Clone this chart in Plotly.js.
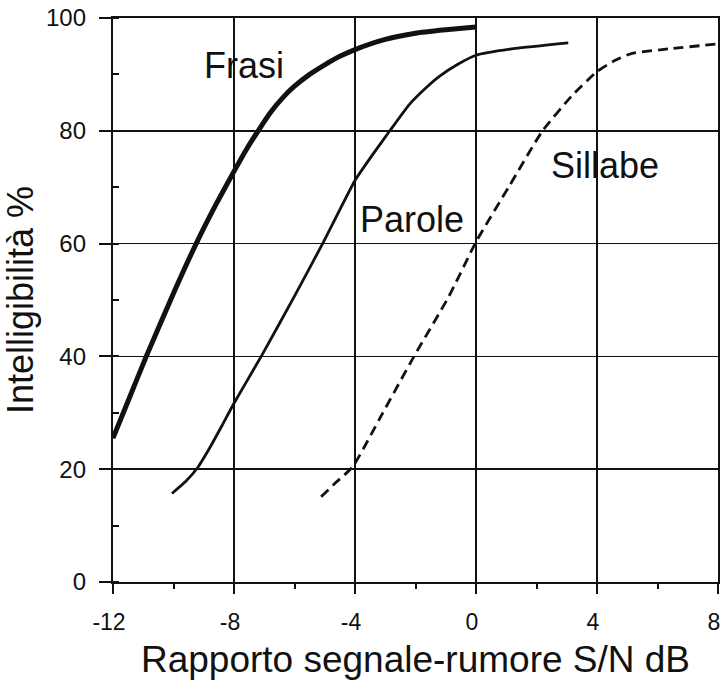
<!DOCTYPE html>
<html>
<head>
<meta charset="utf-8">
<script src="https://cdn.plot.ly/plotly-3.0.1.min.js"></script>
<style>html,body{margin:0;padding:0;background:#fff;}#chart{width:723px;height:681px;}</style>
</head>
<body>
<div id="chart"></div>
<script>
// Data
const frasiX = [-12, -11.5, -10.9, -10, -9.25, -8.6, -8, -7.6, -7.2, -6.8, -6.4, -6, -5.5, -5, -4.5, -4, -3, -2, -1, 0];
const frasiY = [25.5, 32.1, 40, 51.2, 60, 66.9, 72.8, 76.6, 80, 83.2, 85.8, 87.9, 90, 91.7, 93.2, 94.4, 96.2, 97.3, 97.9, 98.4];

const paroleX = [-10.05, -9.6, -9.2, -8.8, -8.4, -8, -7.1, -6, -5.07, -4, -3.4, -2.85, -2.2, -1.66, -1.2, -0.6, 0, 1.3, 3.05];
const paroleY = [15.7, 17.8, 20.3, 23.8, 27.7, 31.7, 40, 50.7, 60, 71.2, 75.9, 80, 84.7, 87.6, 89.7, 91.8, 93.4, 94.6, 95.6];

const sillabeX = [-5.12, -4.6, -4.08, -3.09, -2.05, -0.9, 0, 1.1, 2.2, 3.17, 4, 4.6, 5.14, 6.5, 8];
const sillabeY = [15.1, 17.8, 20.4, 29.9, 40, 50.6, 60.3, 70.2, 80, 86.2, 90.5, 92.5, 93.7, 94.6, 95.4];

const xTickVals = [-12, -8, -4, 0, 4, 8];
const xTickText = ['-12', '-8', '-4', '0', '4', '8'];
const yTickVals = [0, 20, 40, 60, 80, 100];
const yTickText = ['0', '20', '40', '60', '80', '100'];

const curveLabels = ['Frasi', 'Parole', 'Sillabe'];
const labelX = [-7.68, -2.12, 4.28];
const labelY = [91.5, 64.2, 73.9];

const ink = '#111111';
const font = 'Liberation Sans, Arial, sans-serif';

const traces = [
  {x: frasiX, y: frasiY, name: 'Frasi', mode: 'lines', line: {color: ink, width: 5, shape: 'spline', smoothing: 0.5}},
  {x: paroleX, y: paroleY, name: 'Parole', mode: 'lines', line: {color: ink, width: 2.8, shape: 'spline', smoothing: 0.5}},
  {x: sillabeX, y: sillabeY, name: 'Sillabe', mode: 'lines', line: {color: ink, width: 2.8, dash: '10px,6px', shape: 'spline', smoothing: 0.5}}
];

const annotations = curveLabels.map((t, i) => ({
  x: labelX[i], y: labelY[i], xref: 'x', yref: 'y', text: t, showarrow: false,
  font: {family: font, size: 36, color: ink}, bgcolor: 'rgba(0,0,0,0)'
}));

const layout = {
  width: 723, height: 681,
  margin: {l: 113, r: 3, t: 18, b: 99, pad: 0},
  paper_bgcolor: '#ffffff', plot_bgcolor: '#ffffff',
  showlegend: false,
  font: {family: font, color: ink},
  xaxis: {
    range: [-12, 8], autorange: false, fixedrange: true,
    tickvals: xTickVals, ticktext: xTickText,
    ticks: 'outside', ticklen: 10, tickwidth: 2, tickcolor: ink,
    ticklabelstandoff: 8, ticklabelshift: -4, ticklabeloverflow: 'allow',
    tickfont: {family: font, size: 23, color: ink},
    showgrid: true, gridcolor: ink, gridwidth: 1.6,
    zeroline: false,
    showline: true, linecolor: ink, linewidth: 2.2, mirror: true,
    minor: {dtick: 2, tick0: 0, ticks: 'outside', ticklen: 5, tickwidth: 2, tickcolor: ink, showgrid: false},
    title: {text: 'Rapporto segnale-rumore S/N dB', font: {family: font, size: 37, color: ink}, standoff: 12},
    automargin: false
  },
  yaxis: {
    range: [0, 100], autorange: false, fixedrange: true,
    tickvals: yTickVals, ticktext: yTickText,
    ticks: 'outside', ticklen: 12, tickwidth: 2, tickcolor: ink,
    ticklabelstandoff: 8,
    tickfont: {family: font, size: 24, color: ink},
    showgrid: true, gridcolor: ink, gridwidth: 1.6,
    zeroline: false,
    showline: true, linecolor: ink, linewidth: 2.2, mirror: true,
    minor: {dtick: 10, tick0: 0, ticks: 'inside', ticklen: 6, tickwidth: 2, tickcolor: ink, showgrid: false},
    title: {text: 'Intelligibilità %', font: {family: font, size: 36, color: ink}, standoff: 8},
    automargin: true
  },
  annotations: annotations
};

Plotly.newPlot('chart', traces, layout, {displayModeBar: false, staticPlot: true});
</script>
</body>
</html>
